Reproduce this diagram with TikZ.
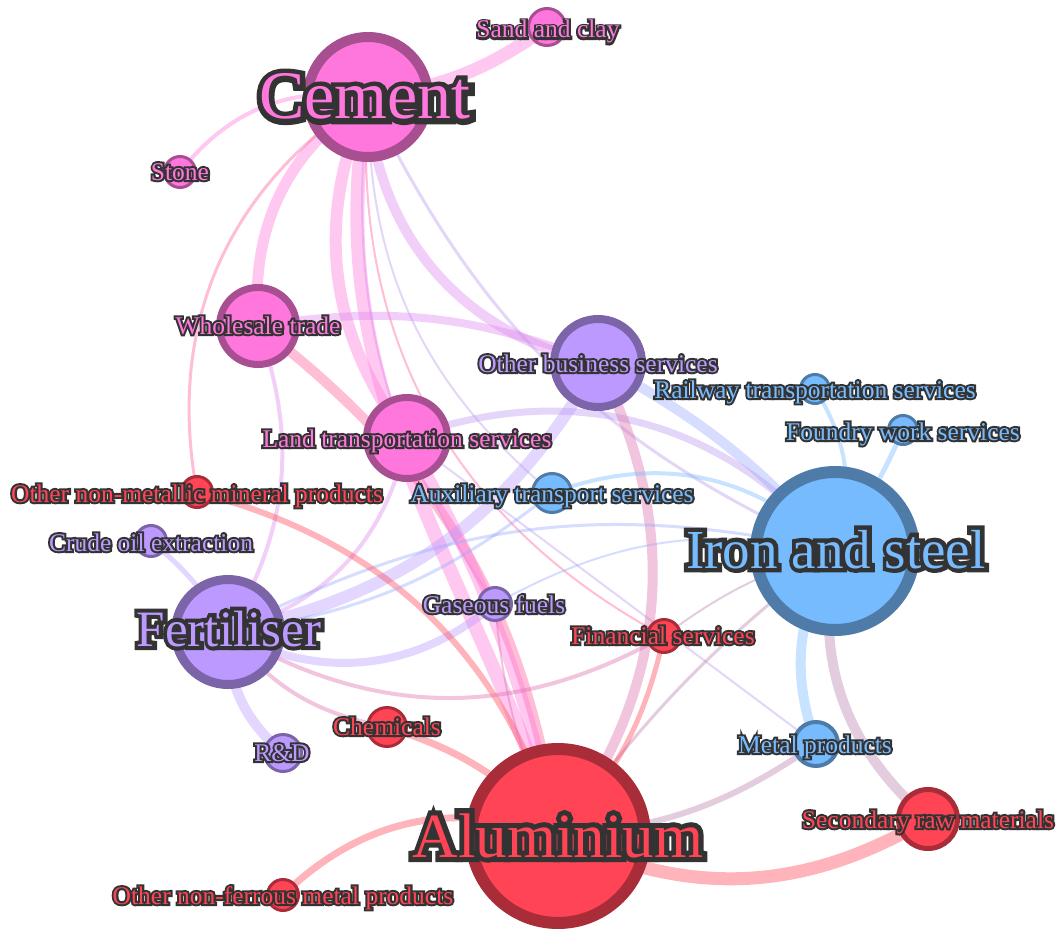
\documentclass[tikz,border=0pt]{standalone}
\usepackage{fontspec}
\setmainfont{Liberation Serif}
\newfontfamily\outl{Liberation Serif}[FakeBold=16]
\definecolor{pk}{HTML}{FF77DD}
\definecolor{pu}{HTML}{BB99FF}
\definecolor{bl}{HTML}{77BBFF}
\definecolor{rd}{HTML}{FF4455}
\definecolor{dk}{HTML}{333333}
\colorlet{pkD}{pk!66!black}
\colorlet{puD}{pu!66!black}
\colorlet{blD}{bl!66!black}
\colorlet{rdD}{rd!66!black}
\colorlet{pkpu}{pk!50!pu}
\colorlet{pkrd}{pk!50!rd}
\colorlet{pkbl}{pk!50!bl}
\colorlet{purd}{pu!50!rd}
\colorlet{publ}{pu!50!bl}
\colorlet{blrd}{bl!50!rd}
\newcommand{\olab}[1]{\rlap{\outl\color{dk}#1}#1}
\pgfdeclarelayer{bgw}
\pgfdeclarelayer{edges}
\pgfsetlayers{bgw,edges,main}
\begin{document}
\begin{tikzpicture}[x=1pt,y=1pt,
  vx/.style={circle,inner sep=0pt,outer sep=0pt},
  pkn/.style={vx,fill=pk,draw=pkD},
  pun/.style={vx,fill=pu,draw=puD},
  bln/.style={vx,fill=bl,draw=blD},
  rdn/.style={vx,fill=rd,draw=rdD},
  lab/.style={anchor=base,inner sep=0pt,font=\fontsize{25.5}{28}\selectfont},
  ed/.style={draw opacity=0.4}]
\begin{pgfonlayer}{bgw}
\fill[white] (0,0) rectangle (1058,-931);
\end{pgfonlayer}
\useasboundingbox (0,0) rectangle (1058,-931);
% nodes
\node[pkn,line width=10,minimum size=120] (C) at (368,-97) {};
\node[pkn,line width=3,minimum size=37] (SC) at (547,-27) {};
\node[pkn,line width=3,minimum size=31] (ST) at (180,-172) {};
\node[pkn,line width=7,minimum size=77] (W) at (258,-326) {};
\node[pkn,line width=7,minimum size=81] (L) at (407,-438) {};
\node[pun,line width=8,minimum size=88] (OB) at (598,-363) {};
\node[bln,line width=3,minimum size=29] (RW) at (815,-389) {};
\node[bln,line width=3,minimum size=29] (FW) at (903,-430) {};
\node[bln,line width=3,minimum size=39] (AX) at (552,-493) {};
\node[rdn,line width=3,minimum size=31] (ONM) at (197,-492) {};
\node[pun,line width=3,minimum size=31] (CO) at (151,-541) {};
\node[bln,line width=12,minimum size=158] (I) at (835,-551) {};
\node[pun,line width=9,minimum size=105] (F) at (228,-632) {};
\node[pun,line width=3,minimum size=33] (G) at (495,-604) {};
\node[rdn,line width=3,minimum size=33] (FS) at (664,-636) {};
\node[rdn,line width=3,minimum size=39] (CH) at (387,-727) {};
\node[pun,line width=3,minimum size=37] (RD) at (283,-753) {};
\node[bln,line width=4,minimum size=44] (MP) at (816,-744) {};
\node[rdn,line width=5,minimum size=59] (SR) at (928,-819) {};
\node[rdn,line width=12,minimum size=174] (A) at (558,-836) {};
\node[rdn,line width=3,minimum size=31] (ONF) at (283,-895) {};
% edges
\begin{pgfonlayer}{edges}
\draw[ed,pk,line width=13] (C.center) to[bend right=14] (SC.center);
\draw[ed,pk,line width=4] (ST.center) to[bend left=30] (C.center);
\draw[ed,pk,line width=11] (C.center) to[bend right=30] (W.center);
\draw[ed,pk,line width=12] (C.center) to[bend right=30] (L.center);
\draw[ed,pk,line width=14] (C.center) to[out=-100,in=108] (A.center);
\draw[ed,pkrd,line width=10] (W.center) to[bend left=22] (A.center);
\draw[ed,pkrd,line width=3] (C.center) to[bend right=34] (ONM.center);
\draw[ed,pkpu,line width=10] (C.center) to[bend right=38] (OB.center);
\draw[ed,pkbl,line width=3] (C.center) to[bend right=20] (I.center);
\draw[ed,pkrd,line width=2] (C.center) to[bend right=33] (FS.center);
\draw[ed,pkbl,line width=2] (C.center) to[bend right=25] (AX.center);
\draw[ed,pkpu,line width=2] (C.center) to[bend right=20] (G.center);
\draw[ed,pkpu,line width=8] (W.center) to[bend left=15] (OB.center);
\draw[ed,pkpu,line width=4] (W.center) to[bend left=25] (F.center);
\draw[ed,pkpu,line width=4] (L.center) to[bend left=31] (F.center);
\draw[ed,pkbl,line width=7] (L.center) to[bend left=35] (I.center);
\draw[ed,pk,line width=12] (L.center) to[bend left=8] (A.center);
\draw[ed,pkbl,line width=2] (L.center) to (MP.center);
\draw[ed,pu,line width=12] (OB.center) to[bend left=24] (F.center);
\draw[ed,publ,line width=10] (OB.center) to[bend left=10] (I.center);
\draw[ed,purd,line width=10] (OB.center) to[bend left=32] (A.center);
\draw[ed,bl,line width=4] (RW.center) to[bend left=25] (I.center);
\draw[ed,bl,line width=5] (FW.center) to[bend left=5] (I.center);
\draw[ed,bl,line width=10] (I.center) to[bend right=25] (MP.center);
\draw[ed,blrd,line width=10] (I.center) to[bend right=30] (SR.center);
\draw[ed,bl,line width=4] (AX.center) to[bend left=32] (I.center);
\draw[ed,publ,line width=3] (F.center) to[bend left=20] (I.center);
\draw[ed,pu,line width=8] (F.center) to[bend right=34] (G.center);
\draw[ed,publ,line width=2] (G.center) to[bend left=20] (I.center);
\draw[ed,blrd,line width=2] (FS.center) to[bend left=10] (I.center);
\draw[ed,blrd,line width=3] (A.center) to[bend left=8] (I.center);
\draw[ed,blrd,line width=6] (A.center) to[bend right=15] (MP.center);
\draw[ed,rd,line width=13] (A.center) to[bend right=28] (SR.center);
\draw[ed,rd,line width=7] (A.center) to[bend right=32] (ONF.center);
\draw[ed,rd,line width=7] (CH.center) to[bend left=15] (A.center);
\draw[ed,rd,line width=6] (ONM.center) to[bend left=29] (A.center);
\draw[ed,rd,line width=5] (FS.center) to[bend left=15] (A.center);
\draw[ed,purd,line width=2] (G.center) to[bend right=10] (A.center);
\draw[ed,purd,line width=4] (F.center) to[bend right=30] (FS.center);
\draw[ed,purd,line width=4] (F.center) to[bend right=20] (CH.center);
\draw[ed,pu,line width=10] (F.center) to[bend right=25] (RD.center);
\draw[ed,pu,line width=5] (CO.center) to[bend left=10] (F.center);
\draw[ed,publ,line width=3] (F.center) to[bend right=15] (AX.center);
\end{pgfonlayer}
% labels
\node[lab,text=pk,font=\fontsize{68}{72}\selectfont] (tC) at (365,-119) {\olab{Cement}};
\node[lab,text=pk] (tSC) at (548,-38) {\olab{Sand and clay}};
\node[lab,text=pk] (tST) at (180,-180) {\olab{Stone}};
\node[lab,text=pk] (tW) at (258,-334) {\olab{Wholesale trade}};
\node[lab,text=pk] (tL) at (407,-447) {\olab{Land transportation services}};
\node[lab,text=pu] (tOB) at (598,-372) {\olab{Other business services}};
\node[lab,text=bl] (tRW) at (815,-398) {\olab{Railway transportation services}};
\node[lab,text=bl] (tFW) at (903,-440) {\olab{Foundry work services}};
\node[lab,text=bl] (tAX) at (552,-502) {\olab{Auxiliary transport services}};
\node[lab,text=rd] (tONM) at (197,-502) {\olab{Other non-metallic mineral products}};
\node[lab,text=pu] (tCO) at (151,-551) {\olab{Crude oil extraction}};
\node[lab,text=bl,font=\fontsize{55}{60}\selectfont] (tI) at (836,-568) {\olab{Iron and steel}};
\node[lab,text=pu,font=\fontsize{51}{56}\selectfont] (tF) at (229,-646) {\olab{Fertiliser}};
\node[lab,text=pu] (tG) at (494,-613) {\olab{Gaseous fuels}};
\node[lab,text=rd] (tFS) at (663,-644) {\olab{Financial services}};
\node[lab,text=rd] (tCH) at (387,-735) {\olab{Chemicals}};
\node[lab,text=pu] (tRD) at (282,-761) {\olab{R\&D}};
\node[lab,text=bl] (tMP) at (815,-753) {\olab{Metal products}};
\node[lab,text=rd] (tSR) at (928,-828) {\olab{Secondary raw materials}};
\node[lab,text=rd,font=\fontsize{63}{68}\selectfont] (tA) at (558,-857) {\olab{Aluminium}};
\node[lab,text=rd] (tONF) at (283,-904) {\olab{Other non-ferrous metal products}};
\end{tikzpicture}
\end{document}
